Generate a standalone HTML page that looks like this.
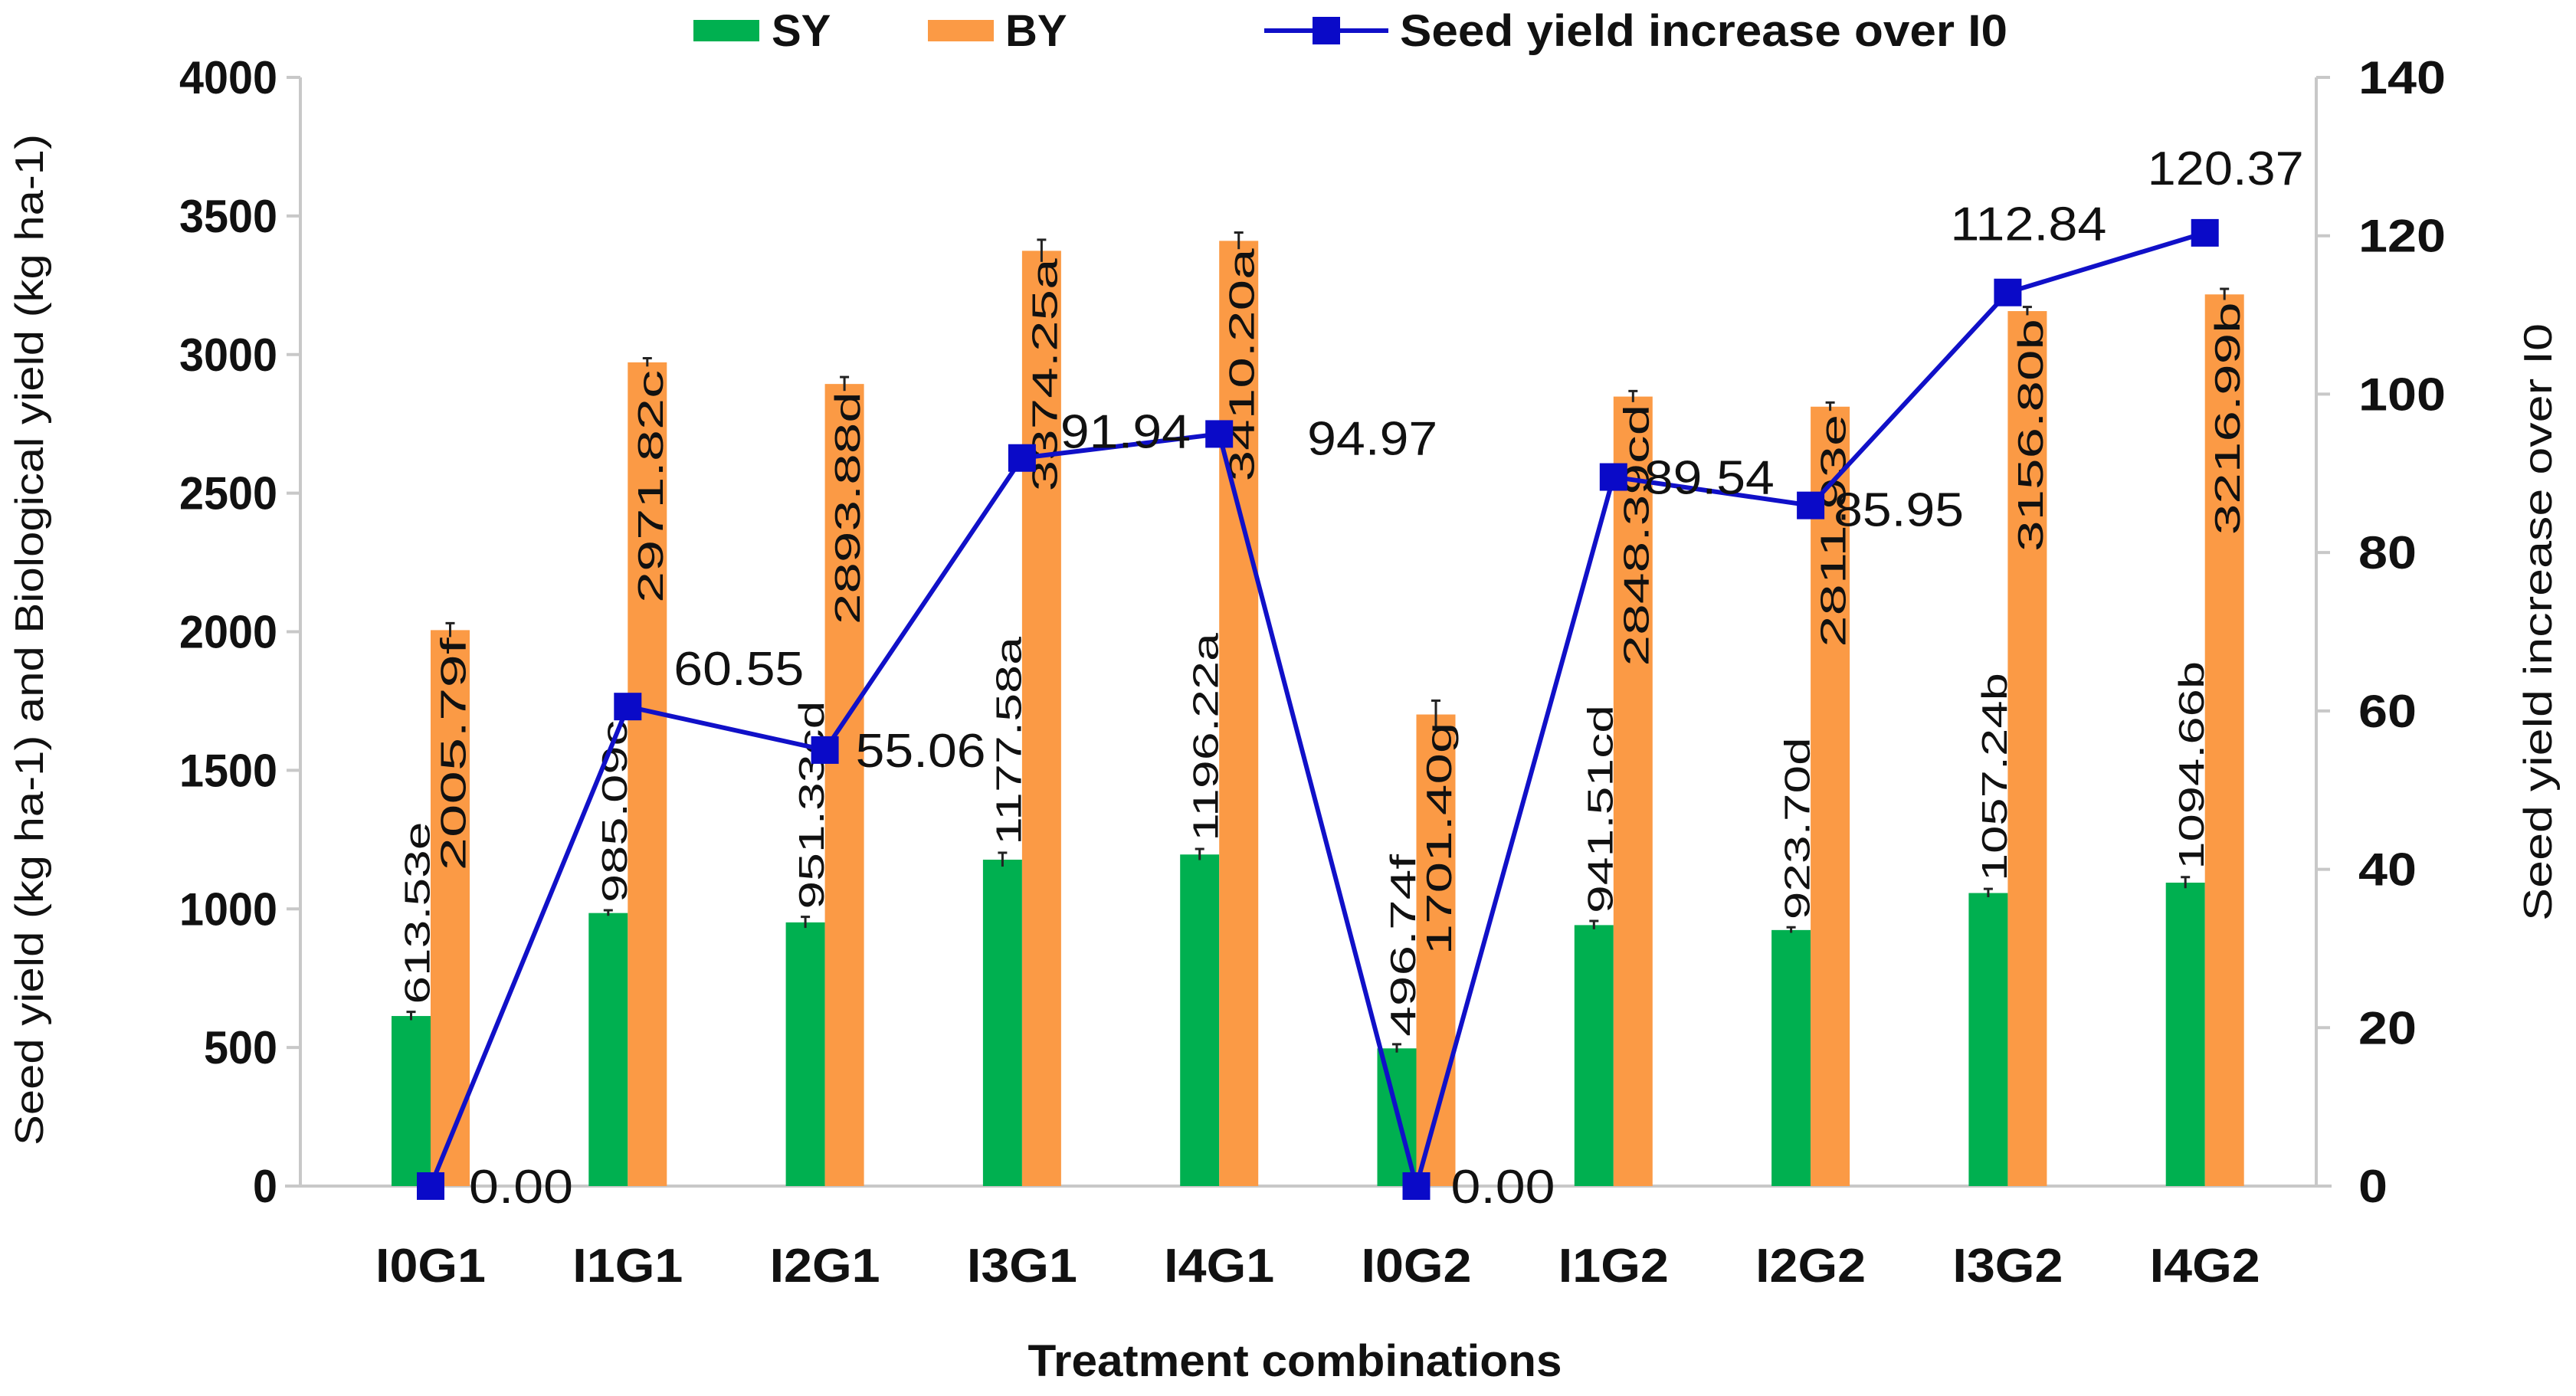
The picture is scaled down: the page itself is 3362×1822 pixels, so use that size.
<!DOCTYPE html>
<html><head><meta charset="utf-8"><style>
body{margin:0;background:#fff}
svg{display:block;font-family:"Liberation Sans",Arial,sans-serif;font-weight:bold}
</style></head><body>
<svg id="chart" width="3362" height="1822" viewBox="0 0 3362 1822" xmlns="http://www.w3.org/2000/svg"></svg>
<script>
const categories=["I0G1","I1G1","I2G1","I3G1","I4G1","I0G2","I1G2","I2G2","I3G2","I4G2"];
const syValues=[613.53,985.09,951.33,1177.58,1196.22,496.74,941.51,923.70,1057.24,1094.66];
const syLabels=["613.53e","985.09c","951.33cd","1177.58a","1196.22a","496.74f","941.51cd","923.70d","1057.24b","1094.66b"];
const byValues=[2005.79,2971.82,2893.88,3374.25,3410.20,1701.40,2848.39,2811.93,3156.80,3216.99];
const byLabels=["2005.79f","2971.82c","2893.88d","3374.25a","3410.20a","1701.40g","2848.39cd","2811.93e","3156.80b","3216.99b"];
const incValues=[0,60.55,55.06,91.94,94.97,0,89.54,85.95,112.84,120.37];
const leftTicks=[0,500,1000,1500,2000,2500,3000,3500,4000];
const rightTicks=[0,20,40,60,80,100,120,140];
const errSY=[15,10,20,25,20,15,15,10,15,20];
const errBY=[25,15,25,40,30,50,20,15,15,20];
// label offsets (style only)
const lblOff=[[50,0],[60,-50],[40,0],[50,-35],[115,5],[45,0],[40,0],[30,5],[-75,-90],[-75,-85]];

const NS="http://www.w3.org/2000/svg";
const svg=document.getElementById('chart');
const X0=392,X1=3023,Y0=1548,Y1=101;
const yL=v=>Y0-(v/4000)*(Y0-Y1);
const yR=v=>Y0-(v/140)*(Y0-Y1);
const xc=i=>562+257.3*i;
const BW=51;
function el(t,a,txt){const e=document.createElementNS(NS,t);for(const k in a)e.setAttribute(k,a[k]);if(txt!==undefined)e.textContent=txt;svg.appendChild(e);return e;}

let e;
e=el('line',{x1:X0,y1:Y1,x2:X0,y2:Y0,stroke:'#c8c8c8','stroke-width':4});


e=el('line',{x1:X1,y1:Y1,x2:X1,y2:Y0,stroke:'#c8c8c8','stroke-width':4});


e=el('line',{x1:X0-20,y1:Y0,x2:X1+20,y2:Y0,stroke:'#c8c8c8','stroke-width':4});



leftTicks.forEach(v=>{
 el('line',{x1:X0-18,y1:yL(v),x2:X0,y2:yL(v),stroke:'#c8c8c8','stroke-width':4});
 e=el('text',{x:X0-30,y:yL(v)+21,'text-anchor':'end','font-size':60,fill:'#111',textLength:String(v).length*32,lengthAdjust:'spacingAndGlyphs'},v);
 
 
});
rightTicks.forEach(v=>{
 el('line',{x1:X1,y1:yR(v),x2:X1+18,y2:yR(v),stroke:'#c8c8c8','stroke-width':4});
 e=el('text',{x:X1+55,y:yR(v)+21,'text-anchor':'start','font-size':60,fill:'#111',textLength:String(v).length*38,lengthAdjust:'spacingAndGlyphs'},v);
 
 
});

categories.forEach((c,i)=>{
 const cx=xc(i);
 e=el('rect',{x:cx-BW,y:yL(syValues[i]),width:BW,height:Y0-yL(syValues[i]),fill:'#00b050'});
 
 
 e=el('rect',{x:cx,y:yL(byValues[i]),width:BW,height:Y0-yL(byValues[i]),fill:'#fb9a45'});
 
 
 [[cx-BW/2,syValues[i],errSY[i]],[cx+BW/2,byValues[i],errBY[i]]].forEach(([x,v,er])=>{
  el('line',{x1:x,y1:yL(v+er),x2:x,y2:yL(v-er),stroke:'#222','stroke-width':3});
  el('line',{x1:x-6,y1:yL(v+er),x2:x+6,y2:yL(v+er),stroke:'#222','stroke-width':3});
 });
 let tx=cx-BW/2+8,ty=yL(syValues[i]+errSY[i])-10;
 e=el('text',{x:tx,y:ty,transform:`rotate(-90 ${tx} ${ty})`,'font-size':46,'font-weight':'normal',fill:'#111','dominant-baseline':'central',textLength:syLabels[i].length*34,lengthAdjust:'spacingAndGlyphs'},syLabels[i]);
 
 
 tx=cx+BW/2+4;ty=yL(byValues[i])+10;
 e=el('text',{x:tx,y:ty,transform:`rotate(-90 ${tx} ${ty})`,'font-size':46,'font-weight':'normal',fill:'#111','dominant-baseline':'central','text-anchor':'end',textLength:byLabels[i].length*38,lengthAdjust:'spacingAndGlyphs'},byLabels[i]);
 
 
 e=el('text',{x:cx,y:1673,'text-anchor':'middle','font-size':62,fill:'#111',textLength:c.length*36,lengthAdjust:'spacingAndGlyphs'},c);
 
 
});

const pts=incValues.map((v,i)=>xc(i)+','+yR(v)).join(' ');
e=el('polyline',{points:pts,fill:'none',stroke:'#1010c8','stroke-width':6});


incValues.forEach((v,i)=>{
 e=el('rect',{x:xc(i)-18,y:yR(v)-18,width:36,height:36,fill:'#0a0ac8'});
 
 
 const t=v.toFixed(2);
 e=el('text',{x:xc(i)+lblOff[i][0],y:yR(v)+22+lblOff[i][1],'font-size':62,'font-weight':'normal',fill:'#111',textLength:t.length*34,lengthAdjust:'spacingAndGlyphs'},t);
 
 
});

// legend
e=el('rect',{x:905,y:26,width:86,height:28,fill:'#00b050'});


e=el('text',{x:1007,y:60,'font-size':58,fill:'#111'},'SY');


e=el('rect',{x:1211,y:26,width:86,height:28,fill:'#fb9a45'});


e=el('text',{x:1312,y:60,'font-size':58,fill:'#111'},'BY');


e=el('line',{x1:1650,y1:40,x2:1812,y2:40,stroke:'#1010c8','stroke-width':6});


el('rect',{x:1713,y:22,width:36,height:36,fill:'#0a0ac8'});
e=el('text',{x:1827,y:60,'font-size':58,fill:'#111',textLength:793,lengthAdjust:'spacingAndGlyphs'},'Seed yield increase over I0');



// axis titles
e=el('text',{x:0,y:0,transform:'translate(56 835) rotate(-90)','text-anchor':'middle','font-size':52,'font-weight':'normal',fill:'#111',textLength:1320,lengthAdjust:'spacingAndGlyphs'},'Seed yield (kg ha-1) and Biological yield (kg ha-1)');


e=el('text',{x:0,y:0,transform:'translate(3330 812) rotate(-90)','text-anchor':'middle','font-size':52,'font-weight':'normal',fill:'#111',textLength:780,lengthAdjust:'spacingAndGlyphs'},'Seed yield increase over I0');


e=el('text',{x:1690,y:1796,'text-anchor':'middle','font-size':58,fill:'#111',textLength:697,lengthAdjust:'spacingAndGlyphs'},'Treatment combinations');


</script>
</body></html>
